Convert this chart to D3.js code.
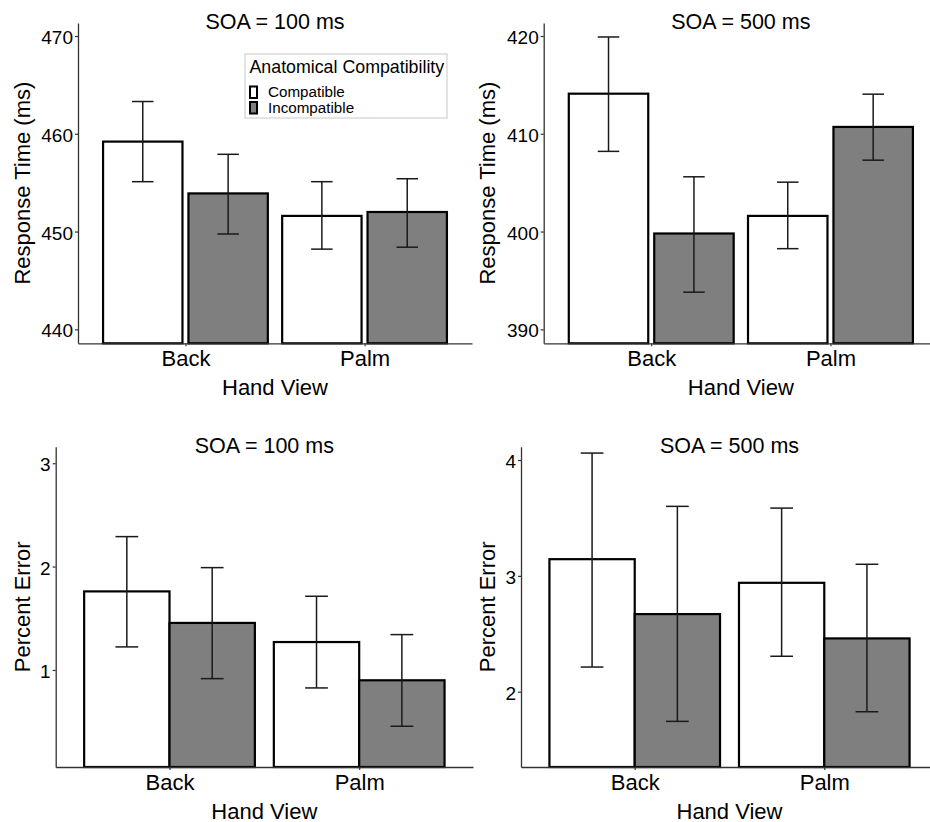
<!DOCTYPE html>
<html>
<head>
<meta charset="utf-8">
<script src="https://cdn.jsdelivr.net/npm/d3@7"></script>
<style>
  body { margin: 0; background: #fff; }
  text { font-family: "Liberation Sans", Arial, Helvetica, sans-serif; fill: #000; }
</style>
</head>
<body>
<script>
// data (order: Back-Compatible, Back-Incompatible, Palm-Compatible, Palm-Incompatible)
const handViews = ["Back", "Palm"];
const compat = ["Compatible", "Incompatible"];

const rt100Mean = [459.2, 453.9, 451.6, 452.0];
const rt100Low  = [455.1, 449.75, 448.2, 448.4];
const rt100High = [463.3, 457.9, 455.1, 455.4];

const rt500Mean = [414.1, 399.8, 401.6, 410.7];
const rt500Low  = [408.2, 393.8, 398.25, 407.3];
const rt500High = [419.9, 405.6, 405.05, 414.05];

const err100Mean = [1.76, 1.455, 1.27, 0.9];
const err100Low  = [1.223, 0.916, 0.826, 0.455];
const err100High = [2.29, 1.99, 1.713, 1.342];

const err500Mean = [3.144, 2.67, 2.94, 2.46];
const err500Low  = [2.213, 1.744, 2.306, 1.827];
const err500High = [4.06, 3.60, 3.585, 3.10];

const rt100Ticks = [440, 450, 460, 470];
const rt500Ticks = [390, 400, 410, 420];
const err100Ticks = [1, 2, 3];
const err500Ticks = [2, 3, 4];

const fills = { Compatible: "#ffffff", Incompatible: "#7f7f7f" };

const svg = d3.select("body").append("svg")
    .attr("width", 930)
    .attr("height", 822);

// panel layout
const panels = [
  {x0: 78, x1: 472, yTop: 23, yBot: 343.3, domain: [438.57, 471.33], ticks: rt100Ticks,
   mean: rt100Mean, lo: rt100Low, hi: rt100High, title: "SOA = 100 ms", ylab: "Response Time (ms)",
   ylabX: 30, group: 0.92, gap: 0.07, legend: true},
  {x0: 543.7, x1: 938, yTop: 23, yBot: 343.3, domain: [388.57, 421.33], ticks: rt500Ticks,
   mean: rt500Mean, lo: rt500Low, hi: rt500High, title: "SOA = 500 ms", ylab: "Response Time (ms)",
   ylabX: 495, group: 0.92, gap: 0.07},
  {x0: 55.7, x1: 473, yTop: 446.7, yBot: 767, domain: [0.061, 3.16], ticks: err100Ticks,
   mean: err100Mean, lo: err100Low, hi: err100High, title: "SOA = 100 ms", ylab: "Percent Error",
   ylabX: 30, group: 0.9, gap: 0},
  {x0: 521, x1: 938, yTop: 446.7, yBot: 767, domain: [1.35, 4.115], ticks: err500Ticks,
   mean: err500Mean, lo: err500Low, hi: err500High, title: "SOA = 500 ms", ylab: "Percent Error",
   ylabX: 495, group: 0.9, gap: 0}
];

panels.forEach(p => {
  const g = svg.append("g");

  const x = d3.scalePoint().domain(handViews).range([p.x0, p.x1]).padding(0.6);
  const step = x.step();
  const sub = d3.scaleBand().domain(compat)
      .range([-p.group / 2 * step, p.group / 2 * step])
      .paddingInner(p.gap);
  const y = d3.scaleLinear().domain(p.domain).range([p.yBot, p.yTop]);

  const rows = handViews.flatMap((h, i) => compat.map((c, j) => ({
    h, c, mean: p.mean[i * 2 + j], lo: p.lo[i * 2 + j], hi: p.hi[i * 2 + j]
  })));
  const cx = d => x(d.h) + sub(d.c) + sub.bandwidth() / 2;

  // bars
  g.selectAll(".bar")
    .data(rows)
    .enter().append("rect")
      .attr("class", "bar")
      .attr("x", d => x(d.h) + sub(d.c))
      .attr("width", sub.bandwidth())
      .attr("y", d => y(d.mean))
      .attr("height", d => p.yBot - y(d.mean))
      .attr("fill", d => fills[d.c])
      .attr("stroke", "#000")
      .attr("stroke-width", 2.2);

  // error bars
  const capHalf = 0.06 * step;
  const eb = g.selectAll(".err")
    .data(rows)
    .enter().append("g")
      .attr("class", "err")
      .attr("stroke", "#1a1a1a")
      .attr("stroke-width", 1.5);
  eb.append("line")
    .attr("x1", cx).attr("x2", cx)
    .attr("y1", d => y(d.lo))
    .attr("y2", d => y(d.hi));
  eb.append("line")
    .attr("x1", d => cx(d) - capHalf)
    .attr("x2", d => cx(d) + capHalf)
    .attr("y1", d => y(d.hi))
    .attr("y2", d => y(d.hi));
  eb.append("line")
    .attr("x1", d => cx(d) - capHalf)
    .attr("x2", d => cx(d) + capHalf)
    .attr("y1", d => y(d.lo))
    .attr("y2", d => y(d.lo));

  // axes
  const yAxis = g.append("g")
      .attr("transform", `translate(${p.x0},0)`)
      .call(d3.axisLeft(y).tickValues(p.ticks).tickFormat(d3.format("d"))
        .tickSize(3).tickSizeOuter(0).tickPadding(2));
  yAxis.selectAll("text").attr("font-size", 19).attr("dy", "0.4em");

  const xAxis = g.append("g")
      .attr("transform", `translate(0,${p.yBot})`)
      .call(d3.axisBottom(x).tickSize(3).tickSizeOuter(0).tickPadding(4));
  xAxis.selectAll("text").attr("font-size", 22).attr("dy", "0.72em");

  [yAxis, xAxis].forEach(a => {
    a.select(".domain").attr("stroke", "#333").attr("stroke-width", 1.3);
    a.selectAll(".tick line").attr("stroke", "#333").attr("stroke-width", 1.2);
    a.selectAll("text").attr("font-family", null).attr("fill", "#000");
  });

  // titles
  g.append("text")
    .attr("x", (p.x0 + p.x1) / 2)
    .attr("y", p.yTop + 6)
    .attr("text-anchor", "middle")
    .attr("font-size", 21.5)
    .text(p.title);

  g.append("text")
    .attr("x", (p.x0 + p.x1) / 2)
    .attr("y", p.yBot + 51.5)
    .attr("text-anchor", "middle")
    .attr("font-size", 22)
    .text("Hand View");

  g.append("text")
    .attr("transform", `translate(${p.ylabX},${(p.yTop + p.yBot) / 2}) rotate(-90)`)
    .attr("text-anchor", "middle")
    .attr("font-size", 22)
    .text(p.ylab);

  if (p.legend) {
    const lg = g.append("g").attr("transform", "translate(245,54)");
    lg.append("rect")
      .attr("width", 202).attr("height", 64)
      .attr("fill", "#fff").attr("stroke", "#c8c8c8").attr("stroke-width", 1);
    lg.append("text")
      .attr("x", 4.5).attr("y", 18.5)
      .attr("font-size", 17.8)
      .text("Anatomical Compatibility");
    const item = lg.selectAll(".key")
      .data(compat)
      .enter().append("g")
        .attr("class", "key")
        .attr("transform", (d, i) => `translate(0,${32.5 + i * 15.5})`);
    item.append("rect")
      .attr("x", 5).attr("y", 0)
      .attr("width", 7).attr("height", 11.5)
      .attr("fill", d => fills[d])
      .attr("stroke", "#000").attr("stroke-width", 2);
    item.append("text")
      .attr("x", 23).attr("y", 10.5)
      .attr("font-size", 15.2)
      .text(d => d);
  }
});
</script>
</body>
</html>
